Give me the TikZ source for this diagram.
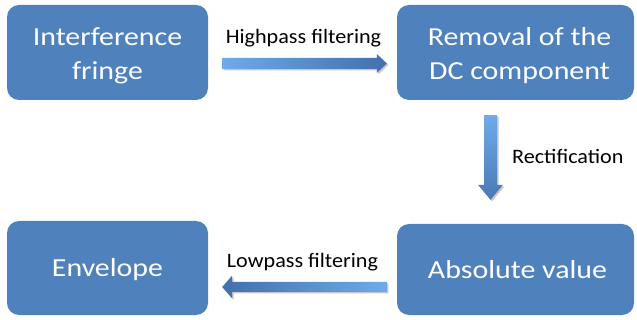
\documentclass[tikz,border=0pt]{standalone}
\usepackage{fontspec}
\setmainfont{Carlito}
\newfontfamily\boxfont[FakeStretch=1.15]{Carlito}
\newfontfamily\labfont[FakeStretch=1.08]{Carlito}
\usetikzlibrary{calc,shadows}
\definecolor{boxblue}{RGB}{79,129,189}
\definecolor{arrlight}{RGB}{112,170,234}
\definecolor{arrdark}{RGB}{66,112,172}
\tikzset{
  stage/.style={draw=none, fill=boxblue, rounded corners=12pt, inner sep=0pt},
  stagetext/.style={inner sep=0pt, text=white, align=center,
    font=\boxfont\fontsize{26}{34}\selectfont},
  flowlabel/.style={inner sep=0pt, text=black, font=\labfont\fontsize{20.5}{24}\selectfont},
  arrshadow/.style={drop shadow={shadow xshift=1.5pt, shadow yshift=-1.5pt, opacity=0.22, fill=black}}
}
\begin{document}
\begin{tikzpicture}[x=1pt, y=-1pt]
\useasboundingbox (0,0) rectangle (637,320);

% process stages
\node[stage, minimum width=201pt, minimum height=95pt] (A) at (107.5,52.5) {};
\node[stage, minimum width=237pt, minimum height=95pt] (B) at (515.5,52.5) {};
\node[stage, minimum width=201pt, minimum height=94pt] (C) at (107.5,268) {};
\node[stage, minimum width=237pt, minimum height=91pt] (D) at (515.5,269.5) {};
\node[stagetext] (At) at ($(A.center)+(0,3)$) {Interference\\fringe};
\node[stagetext] (Bt) at ($(B.center)+(4,3)$) {Removal of the\\DC component};
\node[stagetext] (Ct) at ($(C.center)+(0,2)$) {Envelope};
\node[stagetext] (Dt) at ($(D.center)+(2,0)$) {Absolute value};

% highpass arrow: A -> B
\coordinate (h1s) at ($(A.east)+(14,11)$);
\coordinate (h1e) at ($(B.west)+(-10,11)$);
\path[arrshadow, left color=arrlight, right color=arrdark]
  ($(h1s)+(0,-5.5)$) -- ($(h1e)+(-10,-5.5)$) -- ($(h1e)+(-10,-9.5)$) -- (h1e)
  -- ($(h1e)+(-10,9.5)$) -- ($(h1e)+(-10,5.5)$) -- ($(h1s)+(0,5.5)$) -- cycle;
\node[flowlabel, anchor=base] (hl) at ($(h1s)!0.5!(h1e)+(-1,-19.5)$) {Highpass filtering};

% rectification arrow: B -> D
\coordinate (r1s) at ($(B.south)+(-25,15)$);
\coordinate (r1e) at ($(D.north)+(-25,-24)$);
\path[arrshadow, top color=arrlight, bottom color=arrdark!85!arrlight]
  ($(r1s)+(-6.5,0)$) -- ($(r1e)+(-6.5,-15)$) -- ($(r1e)+(-12.5,-15)$) -- (r1e)
  -- ($(r1e)+(12.5,-15)$) -- ($(r1e)+(6.5,-15)$) -- ($(r1s)+(6.5,0)$) -- cycle;
\node[flowlabel, anchor=base west] (rl) at ($(r1s)!0.5!(r1e)+(21.5,6.5)$) {Rectification};

% lowpass arrow: D -> C
\coordinate (l1s) at ($(D.west)+(-10,17.5)$);
\coordinate (ltip) at ($(C.east)+(14,0)$);
\coordinate (l1e) at (ltip |- l1s);
\path[arrshadow, right color=arrlight, left color=arrdark]
  ($(l1s)+(0,-5)$) -- ($(l1e)+(10,-5)$) -- ($(l1e)+(10,-11.5)$) -- (l1e)
  -- ($(l1e)+(10,11.5)$) -- ($(l1e)+(10,5)$) -- ($(l1s)+(0,5)$) -- cycle;
\node[flowlabel, anchor=base] (ll) at ($(l1s)!0.5!(l1e)+(-2,-19)$) {Lowpass filtering};
\end{tikzpicture}
\end{document}
